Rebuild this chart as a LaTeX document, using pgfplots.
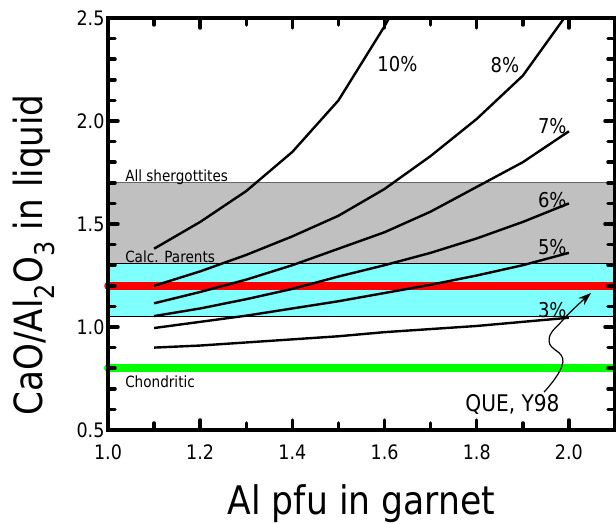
\documentclass[border=0pt]{standalone}
\usepackage{fontspec}
\setmainfont{DejaVu Sans}[FakeStretch=0.88]
\usepackage{pgfplots}
\pgfplotsset{compat=1.18}
\usetikzlibrary{arrows.meta}
\definecolor{bandgray}{RGB}{192,192,192}
\definecolor{bandcyan}{RGB}{128,255,255}
\definecolor{lgreen}{RGB}{0,255,0}
\definecolor{lred}{RGB}{255,0,0}
\begin{document}
\begin{tikzpicture}
\begin{axis}[
  scale only axis, width=507bp, height=412bp,
  xmin=1.0, xmax=2.1, ymin=0.5, ymax=2.5,
  xtick={1.0,1.2,1.4,1.6,1.8,2.0},
  ytick={0.5,1.0,1.5,2.0,2.5},
  major tick length=0pt, minor tick length=0pt,
  axis line style={draw=black, line width=4bp},
  axis on top, clip=false,
  tick label style={font=\fontsize{20}{22}\selectfont,
    /pgf/number format/fixed, /pgf/number format/fixed zerofill,
    /pgf/number format/precision=1, /pgf/number format/assume math mode=true},
  xticklabel style={yshift=-11bp},
  xlabel={Al pfu in garnet},
  ylabel={CaO/Al\textsubscript{2}O\textsubscript{3} in liquid},
  xlabel style={font=\fontsize{39.5}{44}\selectfont, at={(rel axis cs:0.5,-0.2063)}, anchor=base},
  ylabel style={font=\fontsize{39}{44}\selectfont, at={(rel axis cs:-0.1282,0.425)}, anchor=base},
]
% bands
\addplot[draw=black!60, line width=0.8bp, fill=bandgray] coordinates {(1.0,1.31) (2.1,1.31) (2.1,1.70) (1.0,1.70)} -- cycle;
\addplot[draw=black, line width=0.8bp, fill=bandcyan] coordinates {(1.0,1.05) (2.1,1.05) (2.1,1.31) (1.0,1.31)} -- cycle;
% horizontal reference lines
\addplot[lred, line width=7.5bp, line cap=round] coordinates {(1.0,1.2) (2.1,1.2)};
\addplot[lgreen, line width=8bp, line cap=round] coordinates {(1.0,0.8) (2.1,0.8)};
% curves
\addplot[black, line width=2.4bp] coordinates {(1.1,1.38) (1.2,1.51) (1.3,1.66) (1.4,1.85) (1.5,2.10) (1.6,2.46) (1.61,2.5)};
\addplot[black, line width=2.4bp] coordinates {(1.1,1.20) (1.2,1.27) (1.3,1.35) (1.4,1.44) (1.5,1.54) (1.6,1.67) (1.7,1.83) (1.8,2.01) (1.9,2.22) (1.99,2.5)};
\addplot[black, line width=2.4bp] coordinates {(1.1,1.115) (1.2,1.17) (1.3,1.23) (1.4,1.30) (1.5,1.38) (1.6,1.46) (1.7,1.56) (1.8,1.68) (1.9,1.80) (2.0,1.95)};
\addplot[black, line width=2.4bp] coordinates {(1.1,1.053) (1.2,1.09) (1.3,1.135) (1.4,1.185) (1.5,1.245) (1.6,1.30) (1.7,1.36) (1.8,1.43) (1.9,1.51) (2.0,1.60)};
\addplot[black, line width=2.4bp] coordinates {(1.1,0.995) (1.2,1.025) (1.3,1.055) (1.4,1.09) (1.5,1.125) (1.6,1.165) (1.7,1.205) (1.8,1.25) (1.9,1.30) (2.0,1.36)};
\addplot[black, line width=2.4bp] coordinates {(1.1,0.90) (1.2,0.91) (1.3,0.925) (1.4,0.94) (1.5,0.955) (1.6,0.975) (1.7,0.99) (1.8,1.005) (1.9,1.025) (2.0,1.045)};
% tick marks (inward, on all four sides), lengths given in axis units
\pgfplotsinvokeforeach{1.2,1.4,1.6,1.8,2.0}{
  \draw[black, line width=3.5bp, line cap=round] (axis cs:#1,0.5) -- (axis cs:#1,0.5485);
  \draw[black, line width=3.5bp, line cap=round] (axis cs:#1,2.5) -- (axis cs:#1,2.4515);
}
\pgfplotsinvokeforeach{1.1,1.3,1.5,1.7,1.9}{
  \draw[black, line width=3.5bp, line cap=round] (axis cs:#1,0.5) -- (axis cs:#1,0.534);
  \draw[black, line width=3.5bp, line cap=round] (axis cs:#1,2.5) -- (axis cs:#1,2.466);
}
\pgfplotsinvokeforeach{1.0,1.5,2.0}{
  \draw[black, line width=3.5bp, line cap=round] (axis cs:1.0,#1) -- (axis cs:1.0217,#1);
  \draw[black, line width=3.5bp, line cap=round] (axis cs:2.1,#1) -- (axis cs:2.0783,#1);
}
\pgfplotsinvokeforeach{0.6,0.7,0.8,0.9,1.1,1.2,1.3,1.4,1.6,1.7,1.8,1.9,2.1,2.2,2.3,2.4}{
  \draw[black, line width=3.5bp, line cap=round] (axis cs:1.0,#1) -- (axis cs:1.0152,#1);
  \draw[black, line width=3.5bp, line cap=round] (axis cs:2.1,#1) -- (axis cs:2.0848,#1);
}
% labels
\begin{scope}[every node/.style={font=\fontsize{20.5}{22}\selectfont, inner sep=0pt}]
\node at (axis cs:1.628,2.277) {10\%};
\node at (axis cs:1.861,2.272) {8\%};
\node at (axis cs:1.964,1.973) {7\%};
\node at (axis cs:1.964,1.617) {6\%};
\node at (axis cs:1.964,1.386) {5\%};
\node at (axis cs:1.964,1.083) {3\%};
\end{scope}
\begin{scope}[every node/.style={font=\fontsize{15.5}{17}\selectfont, inner sep=0pt, anchor=base west}]
\node at (axis cs:1.037,1.705) {All shergottites};
\node at (axis cs:1.037,1.312) {Calc. Parents};
\node at (axis cs:1.037,0.704) {Chondritic};
\end{scope}
\node[font=\fontsize{23}{25}\selectfont, inner sep=0pt, anchor=base west] at (axis cs:1.775,0.592) {QUE, Y98};
\draw[black, line width=1.2bp, -{Stealth[length=13bp,width=9bp]}] plot[smooth, tension=0.8] coordinates {(1.946,0.684) (1.987,0.830) (1.957,0.932) (1.987,1.034) (2.048,1.165)};
\coordinate (O) at (rel axis cs:0,0);
\end{axis}
\pgfresetboundingbox
\path[use as bounding box] (O) ++(-108bp,-94bp) rectangle ++(616bp,524bp);
\end{tikzpicture}
\end{document}
